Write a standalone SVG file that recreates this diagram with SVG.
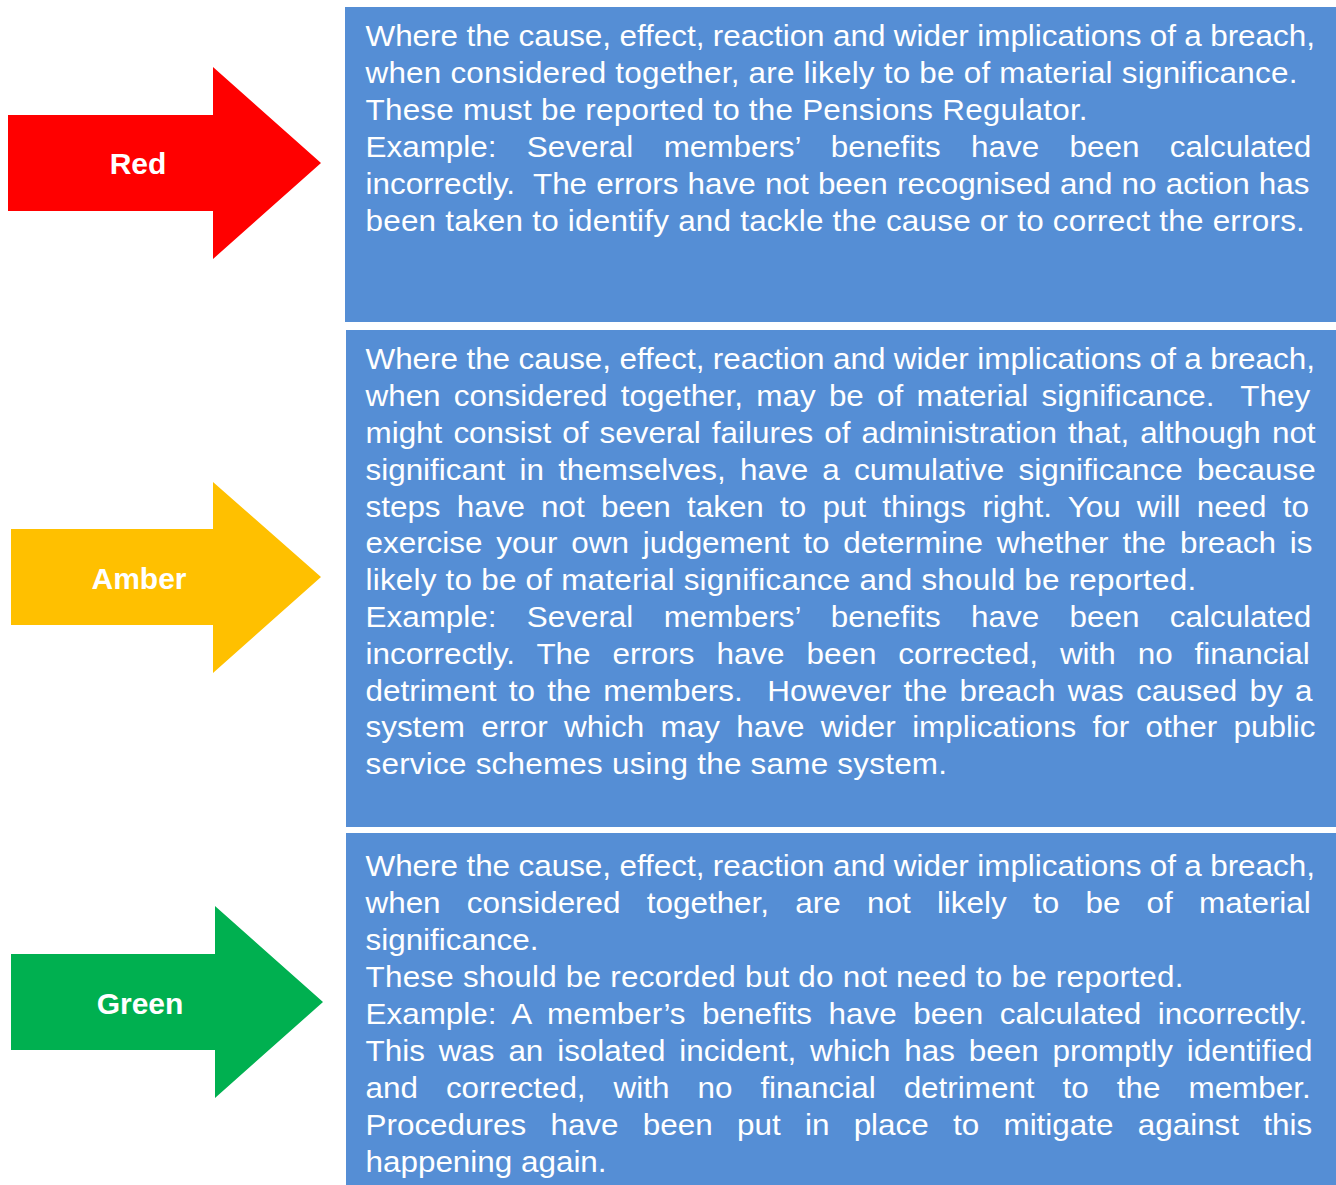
<svg xmlns="http://www.w3.org/2000/svg" width="1336" height="1185" viewBox="0 0 1336 1185">
<style>
.box{fill:#558ED5}
.lbl{font-family:"Liberation Sans",Arial,sans-serif;font-weight:bold;font-size:30px;fill:#FFFFFF;text-anchor:middle}
.t{font-family:"Liberation Sans",Arial,sans-serif;font-size:29.5px;fill:#FFFFFF;white-space:pre}
</style>
<rect width="1336" height="1185" fill="#FFFFFF"/>
<g id="red">
<polygon points="8,115 213,115 213,67 321,163 213,259 213,211 8,211" fill="#FF0000"/>
<text class="lbl" x="138" y="174">Red</text>
<rect class="box" x="345" y="7" width="991" height="315"/>
<g transform="translate(365.5,3) scale(1.065,1)">
<text class="t" x="0" y="43.5" style="word-spacing:-0.31px">Where the cause, effect, reaction and wider implications of a breach,</text>
<text class="t" x="0" y="80.5" textLength="875" lengthAdjust="spacing">when considered together, are likely to be of material significance.</text>
<text class="t" x="0" y="117.5" textLength="678" lengthAdjust="spacing">These must be reported to the Pensions Regulator.</text>
<text class="t" x="0" y="154.5" style="word-spacing:20.3px">Example: Several members’ benefits have been calculated</text>
<text class="t" x="0" y="191.5" style="word-spacing:0.49px">incorrectly.  The errors have not been recognised and no action has</text>
<text class="t" x="0" y="228.5" textLength="882" lengthAdjust="spacing">been taken to identify and tackle the cause or to correct the errors.</text>
</g>
</g>
<g id="amber">
<polygon points="11,529 213,529 213,482 321,577 213,673 213,625 11,625" fill="#FFC000"/>
<text class="lbl" x="139" y="589">Amber</text>
<rect class="box" x="346" y="330" width="990" height="497"/>
<g transform="translate(365.5,3) scale(1.065,1)">
<text class="t" x="0" y="366.5" style="word-spacing:-0.31px">Where the cause, effect, reaction and wider implications of a breach,</text>
<text class="t" x="0" y="403.3" style="word-spacing:4.25px">when considered together, may be of material significance.  They</text>
<text class="t" x="0" y="440.1" style="word-spacing:2.21px">might consist of several failures of administration that, although not</text>
<text class="t" x="0" y="476.9" style="word-spacing:5.19px">significant in themselves, have a cumulative significance because</text>
<text class="t" x="0" y="513.7" style="word-spacing:7.0px">steps have not been taken to put things right. You will need to</text>
<text class="t" x="0" y="550.5" style="word-spacing:4.8px">exercise your own judgement to determine whether the breach is</text>
<text class="t" x="0" y="587.3" textLength="780" lengthAdjust="spacing">likely to be of material significance and should be reported.</text>
<text class="t" x="0" y="624.1" style="word-spacing:20.3px">Example: Several members’ benefits have been calculated</text>
<text class="t" x="0" y="660.9" style="word-spacing:12.4px">incorrectly. The errors have been corrected, with no financial</text>
<text class="t" x="0" y="697.7" style="word-spacing:3.33px">detriment to the members.  However the breach was caused by a</text>
<text class="t" x="0" y="734.5" style="word-spacing:7.14px">system error which may have wider implications for other public</text>
<text class="t" x="0" y="771.3" textLength="546" lengthAdjust="spacing">service schemes using the same system.</text>
</g>
</g>
<g id="green">
<polygon points="11,954 215,954 215,906 323,1002 215,1098 215,1050 11,1050" fill="#00B050"/>
<text class="lbl" x="140" y="1014">Green</text>
<rect class="box" x="346" y="833" width="990" height="352"/>
<g transform="translate(365.5,3) scale(1.065,1)">
<text class="t" x="0" y="873.5" style="word-spacing:-0.31px">Where the cause, effect, reaction and wider implications of a breach,</text>
<text class="t" x="0" y="910.4" style="word-spacing:16.46px">when considered together, are not likely to be of material</text>
<text class="t" x="0" y="947.3">significance.</text>
<text class="t" x="0" y="984.2" textLength="768" lengthAdjust="spacing">These should be recorded but do not need to be reported.</text>
<text class="t" x="0" y="1021.1" style="word-spacing:7.34px">Example: A member’s benefits have been calculated incorrectly.</text>
<text class="t" x="0" y="1058" style="word-spacing:4.8px">This was an isolated incident, which has been promptly identified</text>
<text class="t" x="0" y="1094.9" style="word-spacing:18.1px">and corrected, with no financial detriment to the member.</text>
<text class="t" x="0" y="1131.8" style="word-spacing:14.6px">Procedures have been put in place to mitigate against this</text>
<text class="t" x="0" y="1168.7">happening again.</text>
</g>
</g>
</svg>
